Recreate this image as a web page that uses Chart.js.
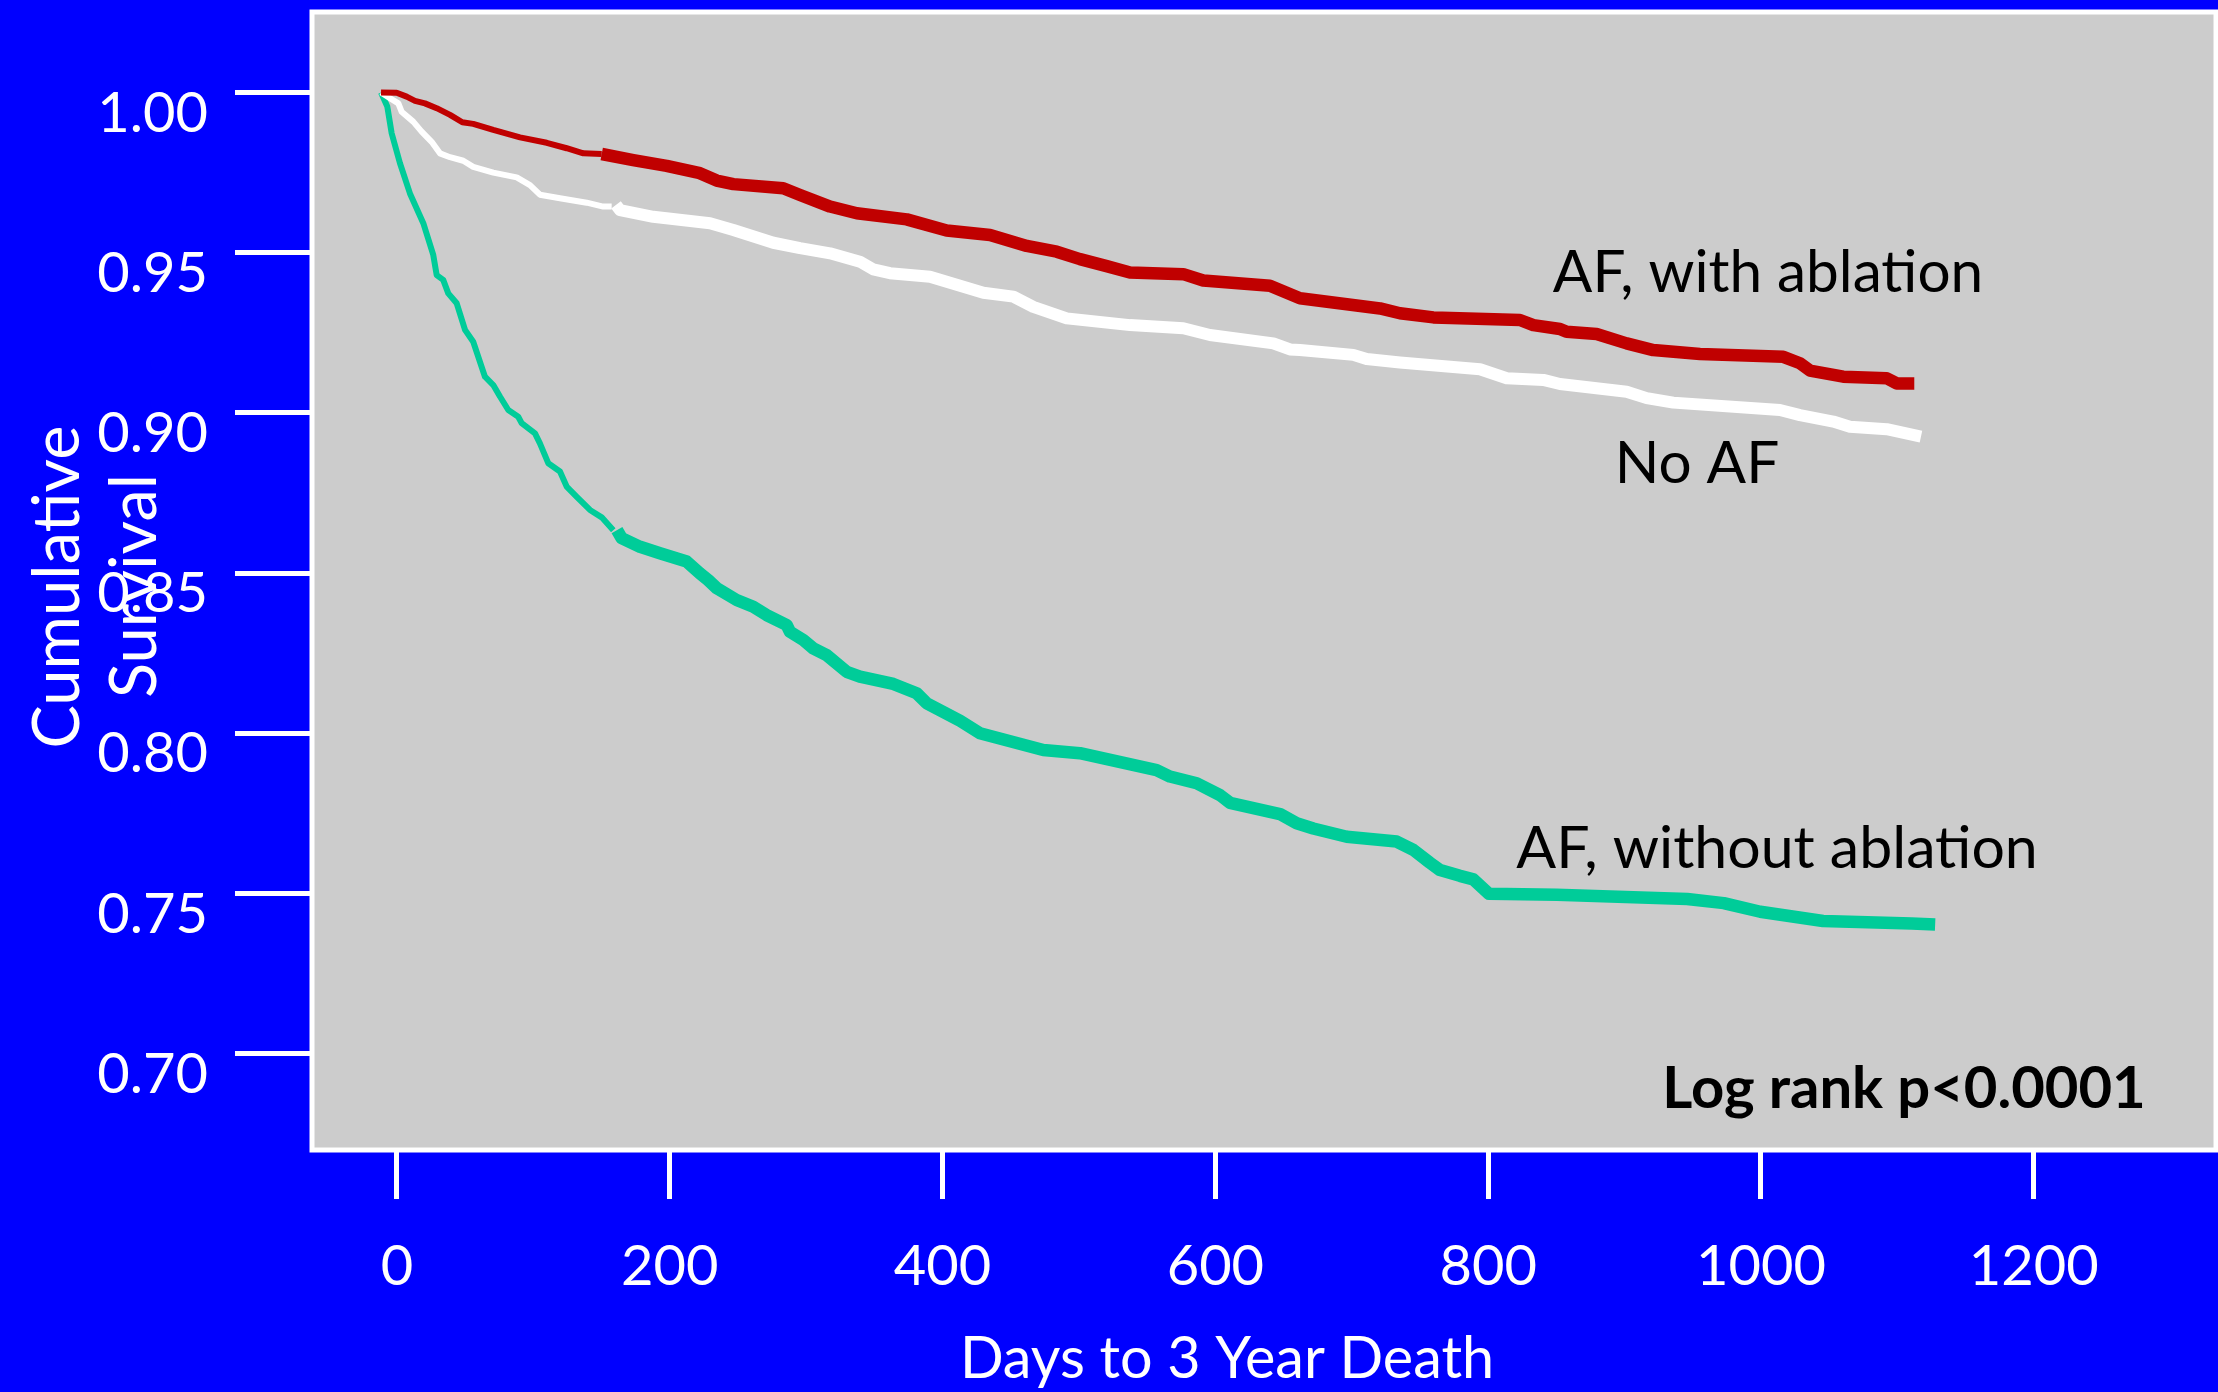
<!DOCTYPE html>
<html>
<head>
<meta charset="utf-8">
<script src="https://cdn.jsdelivr.net/npm/chart.js@4.4.1/dist/chart.umd.min.js"></script>
<style>
html,body{margin:0;padding:0;background:#0000ff;overflow:hidden}
canvas{display:block}
</style>
</head>
<body>
<canvas id="c" width="2218" height="1392"></canvas>
<script>
// ---- axis ticks ----
const xTickValues = [0, 200, 400, 600, 800, 1000, 1200];
const xTickLabels = ['0', '200', '400', '600', '800', '1000', '1200'];
const yTickValues = [0.70, 0.75, 0.80, 0.85, 0.90, 0.95, 1.00];
const yTickLabels = ['0.70', '0.75', '0.80', '0.85', '0.90', '0.95', '1.00'];

// ---- AF, with ablation (red) ----
const ablEarlyDays = [-11.7, -0.2, 7.1, 13.2, 20.5, 29.1, 38.9, 47.9, 55.9, 70.6, 90.2, 109.8, 124.4, 136.6, 150.1];
const ablEarlySurv = [1.0000, 0.9999, 0.9987, 0.9974, 0.9966, 0.9951, 0.9930, 0.9907, 0.9902, 0.9883, 0.9860, 0.9843, 0.9826, 0.9810, 0.9808];
const ablLateDays = [150.1, 173.2, 197.7, 222.1, 234.4, 246.6, 283.2, 295.5, 317.5, 337.1, 373.7, 403.0, 434.8, 461.7, 483.7, 500.7, 520.3, 537.4, 576.5, 591.1, 640.0, 662.0, 720.7, 735.3, 759.8, 823.3, 833.1, 852.6, 857.5, 879.5, 901.5, 921.0, 955.3, 1016.4, 1028.6, 1035.9, 1060.3, 1092.2, 1099.5, 1112.4];
const ablLateSurv = [0.9808, 0.9789, 0.9771, 0.9748, 0.9725, 0.9714, 0.9701, 0.9680, 0.9644, 0.9623, 0.9604, 0.9569, 0.9555, 0.9521, 0.9503, 0.9480, 0.9458, 0.9438, 0.9433, 0.9413, 0.9397, 0.9358, 0.9326, 0.9311, 0.9298, 0.9290, 0.9274, 0.9262, 0.9253, 0.9246, 0.9217, 0.9196, 0.9184, 0.9175, 0.9155, 0.9132, 0.9113, 0.9108, 0.9092, 0.9092];

// ---- No AF (white) ----
const noAfEarlyDays = [-11.7, -5.1, 1.0, 3.4, 11.9, 18.1, 25.4, 31.5, 38.9, 48.6, 55.9, 70.6, 87.8, 97.5, 104.8, 119.5, 139.1, 151.2, 157.4];
const noAfEarlySurv = [1.0000, 0.9982, 0.9966, 0.9940, 0.9909, 0.9878, 0.9846, 0.9810, 0.9798, 0.9787, 0.9768, 0.9750, 0.9735, 0.9711, 0.9681, 0.9670, 0.9656, 0.9644, 0.9644];
const noAfLateDays = [160.6, 163.5, 187.9, 229.5, 246.6, 275.9, 295.5, 317.5, 339.4, 349.2, 361.4, 390.8, 429.9, 451.9, 466.5, 491.0, 537.4, 576.5, 596.0, 642.5, 654.7, 662.0, 701.1, 710.9, 735.3, 794.0, 813.6, 840.4, 852.6, 901.5, 916.2, 935.7, 1013.9, 1028.6, 1053.0, 1065.2, 1092.2, 1117.3];
const noAfLateSurv = [0.9649, 0.9633, 0.9612, 0.9592, 0.9571, 0.9531, 0.9514, 0.9498, 0.9472, 0.9448, 0.9436, 0.9425, 0.9375, 0.9363, 0.9331, 0.9295, 0.9274, 0.9264, 0.9243, 0.9217, 0.9198, 0.9196, 0.9181, 0.9168, 0.9157, 0.9136, 0.9108, 0.9103, 0.9090, 0.9066, 0.9046, 0.9032, 0.9009, 0.8993, 0.8973, 0.8957, 0.8949, 0.8926];

// ---- AF, without ablation (green) ----
const noAblEarlyDays = [-11.7, -7.1, -3.9, 2.2, 9.5, 19.3, 26.6, 29.1, 33.9, 37.6, 43.8, 49.9, 55.9, 64.5, 70.6, 75.5, 81.6, 88.9, 91.4, 101.2, 104.8, 110.9, 119.5, 124.4, 131.8, 141.5, 150.1, 158.6];
const noAblEarlySurv = [1.0000, 0.9956, 0.9873, 0.9779, 0.9685, 0.9592, 0.9493, 0.9430, 0.9415, 0.9373, 0.9342, 0.9259, 0.9222, 0.9113, 0.9087, 0.9051, 0.9009, 0.8988, 0.8968, 0.8936, 0.8905, 0.8843, 0.8817, 0.8770, 0.8738, 0.8697, 0.8674, 0.8634];
const noAblLateDays = [161.3, 164.7, 178.2, 192.8, 212.4, 222.1, 228.2, 234.4, 249.0, 261.2, 271.0, 285.7, 288.1, 297.9, 305.2, 315.0, 329.7, 339.4, 363.9, 381.0, 388.3, 412.8, 427.4, 473.8, 500.7, 556.9, 566.7, 586.3, 603.4, 610.7, 647.4, 659.6, 671.8, 696.3, 732.9, 745.1, 757.3, 764.7, 779.3, 789.1, 800.6, 850.2, 945.9, 972.7, 999.5, 1045.5, 1110.5, 1127.7];
const noAblLateSurv = [0.8634, 0.8609, 0.8582, 0.8562, 0.8536, 0.8499, 0.8478, 0.8453, 0.8416, 0.8395, 0.8369, 0.8338, 0.8317, 0.8291, 0.8265, 0.8244, 0.8192, 0.8177, 0.8154, 0.8125, 0.8094, 0.8039, 0.8000, 0.7948, 0.7938, 0.7885, 0.7865, 0.7844, 0.7807, 0.7783, 0.7748, 0.7719, 0.7703, 0.7677, 0.7662, 0.7636, 0.7596, 0.7573, 0.7555, 0.7544, 0.7499, 0.7496, 0.7483, 0.7470, 0.7443, 0.7414, 0.7406, 0.7403];

const zip = (xs, ys) => xs.map((x, i) => ({x: x, y: ys[i]}));

const RED = '#c00000', WHITE = '#ffffff', GREEN = '#00cc99';
const FONT = 'Lato';

const backgroundPlugin = {
  id: 'backgroundPlugin',
  beforeDraw(chart) {
    const {ctx, chartArea: a, width, height} = chart;
    ctx.save();
    ctx.fillStyle = '#0000ff';
    ctx.fillRect(0, 0, width, height);
    ctx.fillStyle = '#cccccc';
    ctx.fillRect(a.left, a.top, a.right - a.left, a.bottom - a.top);
    ctx.strokeStyle = '#ffffff';
    ctx.lineWidth = 5;
    ctx.strokeRect(a.left, a.top, a.right - a.left, a.bottom - a.top);
    ctx.restore();
  }
};

const textPlugin = {
  id: 'textPlugin',
  afterDraw(chart) {
    const ctx = chart.ctx;
    ctx.save();
    ctx.textBaseline = 'alphabetic';
    ctx.textAlign = 'center';
    ctx.fillStyle = '#ffffff';
    ctx.font = '57.5px ' + FONT;
    ctx.fillText('Days to 3 Year Death', 1227, 1378);
    ctx.font = '65px ' + FONT;
    ctx.save(); ctx.translate(79, 587); ctx.rotate(-Math.PI / 2); ctx.fillText('Cumulative', 0, 0); ctx.restore();
    ctx.save(); ctx.translate(156, 586); ctx.rotate(-Math.PI / 2); ctx.fillText('Survival', 0, 0); ctx.restore();
    ctx.fillStyle = '#000000';
    ctx.font = '58.5px ' + FONT;
    ctx.fillText('AF, with ablation', 1768, 292);
    ctx.fillText('No AF', 1697, 483);
    ctx.font = '59px ' + FONT;
    ctx.fillText('AF, without ablation', 1777, 868);
    ctx.font = 'bold 58px ' + FONT;
    ctx.fillText('Log rank p<0.0001', 1904, 1108);
    ctx.restore();
  }
};

const tickFont = {family: FONT, size: 56};

new Chart(document.getElementById('c'), {
  type: 'line',
  data: {
    datasets: [
      {label: 'AF, with ablation', data: zip(ablEarlyDays, ablEarlySurv), borderColor: RED, borderWidth: 6},
      {label: 'AF, with ablation', data: zip(ablLateDays, ablLateSurv), borderColor: RED, borderWidth: 12.5},
      {label: 'No AF', data: zip(noAfEarlyDays, noAfEarlySurv), borderColor: WHITE, borderWidth: 6},
      {label: 'No AF', data: zip(noAfLateDays, noAfLateSurv), borderColor: WHITE, borderWidth: 12},
      {label: 'AF, without ablation', data: zip(noAblEarlyDays, noAblEarlySurv), borderColor: GREEN, borderWidth: 6},
      {label: 'AF, without ablation', data: zip(noAblLateDays, noAblLateSurv), borderColor: GREEN, borderWidth: 12.5}
    ]
  },
  options: {
    responsive: false,
    animation: false,
    devicePixelRatio: 1,
    layout: {padding: {top: 12, right: 2, left: 0, bottom: 0}},
    elements: {
      point: {radius: 0, hoverRadius: 0},
      line: {tension: 0, borderJoinStyle: 'round', borderCapStyle: 'butt', fill: false}
    },
    plugins: {legend: {display: false}, tooltip: {enabled: false}},
    scales: {
      x: {
        type: 'linear',
        min: -62.3,
        max: 1333.6,
        afterBuildTicks: s => { s.ticks = xTickValues.map(v => ({value: v})); },
        afterFit: s => { s.height = 242; s.paddingLeft = 0; s.paddingRight = 0; },
        border: {display: false},
        grid: {drawOnChartArea: false, drawTicks: true, tickLength: 49, tickColor: '#ffffff', tickWidth: 5, lineWidth: 5, color: '#ffffff'},
        ticks: {color: '#ffffff', font: tickFont, padding: 34, autoSkip: false, maxRotation: 0, minRotation: 0,
                callback: (v, i) => xTickLabels[i]}
      },
      y: {
        type: 'linear',
        min: 0.66994,
        max: 1.02512,
        afterBuildTicks: s => { s.ticks = yTickValues.map(v => ({value: v})); },
        afterFit: s => { s.width = 312; s.paddingTop = 0; s.paddingBottom = 0; },
        border: {display: false},
        grid: {drawOnChartArea: false, drawTicks: true, tickLength: 77, tickColor: '#ffffff', tickWidth: 5, lineWidth: 5, color: '#ffffff'},
        ticks: {color: '#ffffff', font: tickFont, padding: 27, labelOffset: 21, autoSkip: false,
                callback: (v, i) => yTickLabels[i]}
      }
    }
  },
  plugins: [backgroundPlugin, textPlugin]
});
</script>
</body>
</html>
